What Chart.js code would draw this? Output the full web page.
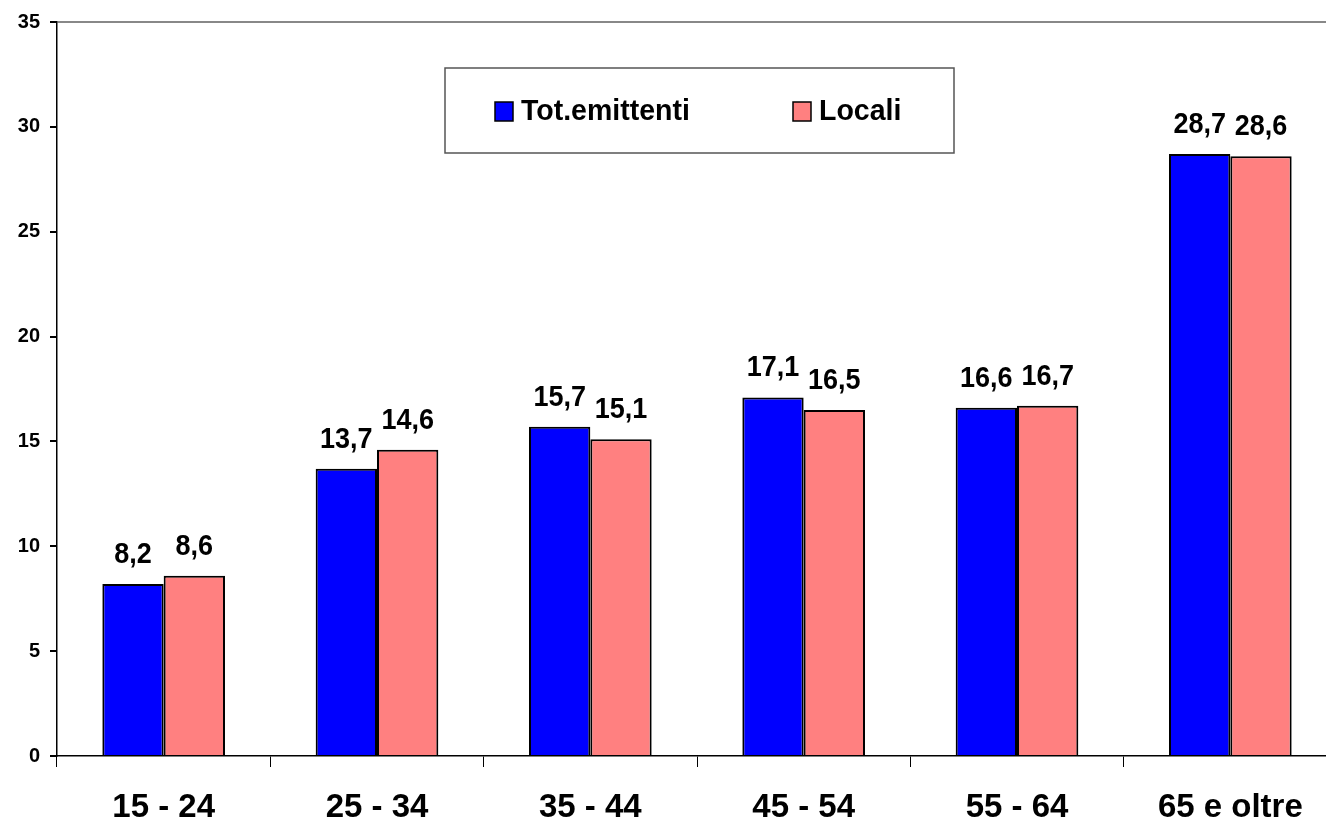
<!DOCTYPE html>
<html>
<head>
<meta charset="utf-8">
<script src="https://cdn.jsdelivr.net/npm/chart.js@4/dist/chart.umd.min.js"></script>
<style>
  html, body { margin: 0; padding: 0; background: #fff; overflow: hidden; }
  #wrap { position: absolute; left: 0; top: 0; width: 1340px; height: 827px; }
</style>
</head>
<body>
<div id="wrap"><canvas id="graph"></canvas></div>
<script>
var categories = ['15 - 24', '25 - 34', '35 - 44', '45 - 54', '55 - 64', '65 e oltre'];
var totEmittenti = [8.2, 13.7, 15.7, 17.1, 16.6, 28.7];
var locali = [8.6, 14.6, 15.1, 16.5, 16.7, 28.6];
var seriesNames = ['Tot.emittenti', 'Locali'];
var seriesColors = ['#0000ff', '#ff8080'];

var FONT = '"Liberation Sans", Arial, sans-serif';

// text squeezed a bit horizontally, like the narrow bold face of the original
function narrowText(ctx, txt, x, y, sx) {
  ctx.save();
  ctx.translate(x, y);
  ctx.scale(sx, 1);
  ctx.fillText(txt, 0, 0);
  ctx.restore();
}

// numbers over each bar, italian decimal comma
var valueLabels = {
  id: 'valueLabels',
  afterDatasetsDraw: function (chart) {
    var ctx = chart.ctx;
    ctx.save();
    ctx.font = 'bold 30px ' + FONT;
    ctx.fillStyle = '#000';
    ctx.textAlign = 'center';
    ctx.textBaseline = 'alphabetic';
    chart.data.datasets.forEach(function (ds, i) {
      chart.getDatasetMeta(i).data.forEach(function (bar, j) {
        var txt = ds.data[j].toFixed(1).replace('.', ',');
        narrowText(ctx, txt, bar.x, bar.y - 21, 0.9);
      });
    });
    ctx.restore();
  }
};

// boxed legend inside the plot
var boxLegend = {
  id: 'boxLegend',
  afterDraw: function (chart) {
    var ctx = chart.ctx;
    ctx.save();
    ctx.fillStyle = '#fff';
    ctx.fillRect(445, 68, 509, 85);
    ctx.strokeStyle = '#555';
    ctx.lineWidth = 1.5;
    ctx.strokeRect(445, 68, 509, 85);
    var xs = [495, 793];
    ctx.font = 'bold 30px ' + FONT;
    ctx.textBaseline = 'middle';
    ctx.textAlign = 'left';
    chart.data.datasets.forEach(function (ds, i) {
      ctx.fillStyle = ds.backgroundColor;
      ctx.fillRect(xs[i], 102, 18, 19);
      ctx.strokeStyle = '#000';
      ctx.lineWidth = 1.5;
      ctx.strokeRect(xs[i], 102, 18, 19);
      ctx.fillStyle = '#000';
      narrowText(ctx, ds.label, xs[i] + 26, 112, 0.95);
    });
    ctx.restore();
  }
};

var ctx = document.getElementById('graph').getContext('2d');
var chart = new Chart(ctx, {
  type: 'bar',
  data: {
    labels: categories,
    datasets: [
      { label: seriesNames[0], data: totEmittenti, backgroundColor: seriesColors[0], borderColor: '#000', borderWidth: 2 },
      { label: seriesNames[1], data: locali, backgroundColor: seriesColors[1], borderColor: '#000', borderWidth: 2 }
    ]
  },
  options: {
    responsive: true,
    maintainAspectRatio: false,
    animation: false,
    layout: { padding: { top: 21, right: 3, left: 0, bottom: 0 } },
    datasets: { bar: { categoryPercentage: 0.575, barPercentage: 1 } },
    plugins: {
      legend: { display: false },
      tooltip: { enabled: false }
    },
    scales: {
      x: {
        offset: true,
        grid: {
          offset: true,
          color: 'transparent',
          tickColor: '#000',
          tickLength: 11,
          lineWidth: 1
        },
        border: { color: '#000', width: 1.5 },
        ticks: {
          color: '#000',
          font: { family: FONT, size: 33, weight: 'bold' },
          padding: 21,
          maxRotation: 0,
          autoSkip: false
        },
        afterFit: function (scale) { scale.height = 71; }
      },
      y: {
        min: 0,
        max: 35,
        ticks: {
          stepSize: 5,
          color: '#000',
          font: { family: FONT, size: 20, weight: 'bold' },
          padding: 10
        },
        grid: {
          color: function (c) { return c.tick && c.tick.value === 35 ? '#888' : 'transparent'; },
          lineWidth: 2,
          tickColor: '#000',
          tickLength: 7
        },
        border: { color: '#000', width: 1.5 },
        afterFit: function (scale) { scale.width = 57; }
      }
    }
  },
  plugins: [valueLabels, boxLegend]
});
</script>
</body>
</html>
